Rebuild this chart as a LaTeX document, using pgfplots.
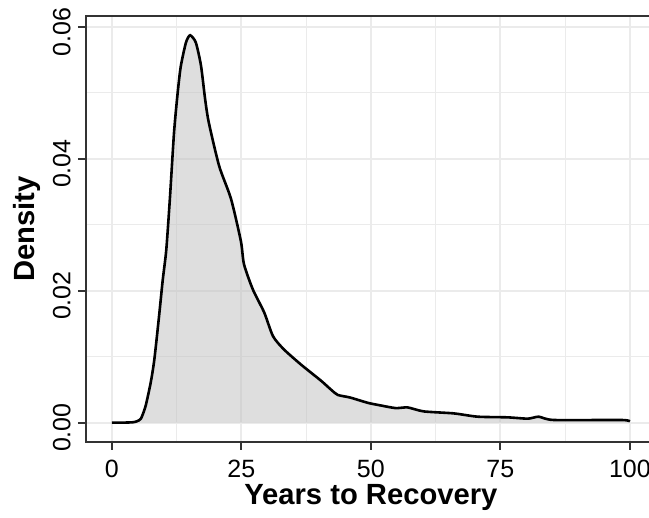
\documentclass[border=0pt]{standalone}
\usepackage{pgfplots}
\pgfplotsset{compat=1.18}
\usepackage{fontspec}
\setmainfont{Liberation Sans}
\definecolor{grey190}{RGB}{190,190,190}
\definecolor{grid92}{RGB}{235,235,235}
\definecolor{grey20}{RGB}{51,51,51}
\pgfplotstableread{
x y
0 0
2 0
4 0.00005
4.8 0.0002
5.6 0.0006
6.5 0.0025
7.5 0.0061
8.2 0.0096
9.1 0.0161
9.8 0.0215
10.5 0.0262
11.2 0.034
12.0 0.044
12.7 0.050
13.3 0.054
14.3 0.0576
15.1 0.0587
16.2 0.0576
17.2 0.0541
18.0 0.0490
18.7 0.0455
20.7 0.0389
23.0 0.0339
24.9 0.0275
25.5 0.0240
27.2 0.0202
29.4 0.0167
31.1 0.0131
33.2 0.0111
36.5 0.0088
40.3 0.0064
42.3 0.0050
43.6 0.0042
46.0 0.0038
49.4 0.0030
51.9 0.0026
54.8 0.0022
57.1 0.0023
60.2 0.0017
66.0 0.0014
70.6 0.0009
76.4 0.0008
80.3 0.0006
82.4 0.0009
85.3 0.0004
98.3 0.0004
100 0.0002
}\dens
\begin{document}
\begin{tikzpicture}
\clip (-43pt,-38pt) rectangle (281.5pt,221pt);
\begin{axis}[
  at={(0pt,0pt)}, anchor=south west,
  scale only axis, width=284.9pt, height=213pt,
  xmin=-5, xmax=105, ymin=-0.002935, ymax=0.06162,
  xtick={0,25,50,75,100},
  ytick={0,0.02,0.04,0.06},
  yticklabels={0.00,0.02,0.04,0.06},
  minor xtick={12.5,37.5,62.5,87.5},
  minor ytick={0.01,0.03,0.05},
  grid=both,
  major grid style={color=grid92, line width=1pt},
  minor grid style={color=grid92, line width=0.55pt},
  tick align=outside,
  tick pos=left,
  major tick length=4pt,
  minor tick length=0.01pt,
  major tick style={draw=grey20, line width=1pt},
  minor tick style={draw=none},
  axis line style={color=grey20, line width=0.7pt},
  /pgf/number format/assume math mode=true,
  xticklabel style={font=\fontsize{12.5}{14}\selectfont, inner sep=0pt, yshift=-5pt, anchor=north},
  yticklabel style={font=\fontsize{12.5}{14}\selectfont, inner sep=0pt, xshift=-3.5pt, yshift=-2.5pt, rotate=90, anchor=south},
  scaled y ticks=false,
  every axis x label/.style={at={(axis description cs:0.5,0)}, yshift=-31.5pt, anchor=base},
  every axis y label/.style={at={(axis description cs:0,0.5)}, xshift=-25.5pt, rotate=90, anchor=base},
  label style={font=\fontsize{14.6}{16}\selectfont\bfseries},
  xlabel={Years to Recovery},
  ylabel={Density},
]
\addplot[draw=none, fill=grey190, fill opacity=0.5, smooth, tension=0.4] table[x=x,y=y]{\dens} \closedcycle;
\addplot[black, line width=1.3pt, smooth, tension=0.4] table[x=x,y=y]{\dens};
\end{axis}
\end{tikzpicture}
\end{document}
